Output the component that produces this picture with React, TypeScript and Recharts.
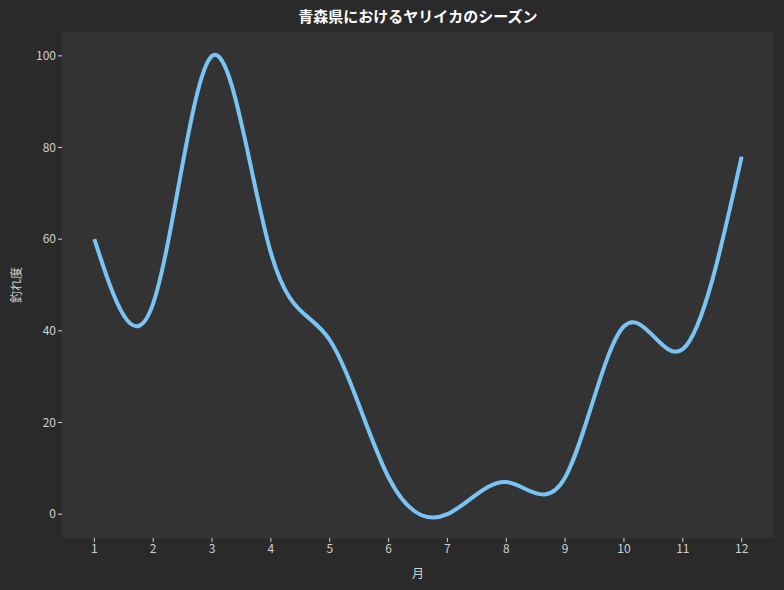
import React from 'react';
import { LineChart, Line, XAxis, YAxis, CartesianGrid, Label } from 'recharts';

const months = [1, 2, 3, 4, 5, 6, 7, 8, 9, 10, 11, 12];
const catchRate = [60, 46, 100, 57, 38, 8, 0, 7, 8, 41, 36, 78];
const yTicks = [0, 20, 40, 60, 80, 100];

const data = months.map((m, i) => ({ month: m, value: catchRate[i] }));

const FONT = '"Noto Sans CJK JP", "Noto Sans", sans-serif';
const TICK = '#d0d0d0';

const App: React.FC = () => {
  return (
    <div style={{ position: 'relative', width: 784, height: 590, background: '#2a2a2a', fontFamily: FONT }}>
      <style>{`body { margin: 0; background: #2a2a2a; }`}</style>
      <div
        style={{
          position: 'absolute',
          top: 5,
          left: 62,
          width: 712,
          textAlign: 'center',
          color: '#ffffff',
          fontWeight: 700,
          fontSize: 15,
          lineHeight: '22px',
        }}
      >
        青森県におけるヤリイカのシーズン
      </div>
      <LineChart width={784} height={590} data={data} margin={{ top: 32, right: 10, bottom: 0, left: 0 }}>
        <CartesianGrid horizontal={false} vertical={false} fill="#333333" stroke="none" />
        <XAxis
          dataKey="month"
          type="number"
          domain={[0.45, 12.55]}
          ticks={months}
          interval={0}
          height={52}
          axisLine={false}
          tickLine={{ stroke: TICK }}
          tickSize={4}
          tick={{ fill: TICK, fontSize: 12, fontFamily: FONT }}
        >
          <Label
            content={() => (
              <text x={418} y={578} textAnchor="middle" fill={TICK} fontSize={12} fontFamily={FONT}>
                月
              </text>
            )}
          />
        </XAxis>
        <YAxis
          type="number"
          domain={[-5.2, 105.2]}
          ticks={yTicks}
          width={62}
          axisLine={false}
          tickLine={{ stroke: TICK }}
          tickSize={4}
          tick={{ fill: TICK, fontSize: 12, fontFamily: FONT }}
        >
          <Label
            content={() => (
              <text
                x={21}
                y={285}
                transform="rotate(-90 21 285)"
                textAnchor="middle"
                fill={TICK}
                fontSize={12}
                fontFamily={FONT}
              >
                釣れ度
              </text>
            )}
          />
        </YAxis>
        <Line
          type="natural"
          dataKey="value"
          stroke="#79c4f4"
          strokeWidth={4}
          dot={false}
          activeDot={false}
          isAnimationActive={false}
        />
      </LineChart>
    </div>
  );
};

export default App;
